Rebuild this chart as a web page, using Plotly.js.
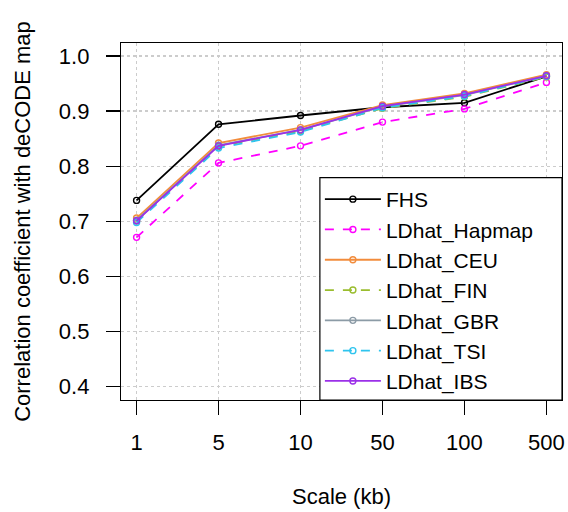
<!DOCTYPE html>
<html><head><meta charset="utf-8">
<script src="https://cdn.plot.ly/plotly-3.0.1.min.js"></script>
<style>body{margin:0;background:#fff}#chart{width:568px;height:512px}</style>
</head><body><div id="chart"></div>
<script>
const scales = ["1","5","10","50","100","500"];
const FHS          = [0.738, 0.876, 0.892, 0.907, 0.915, 0.963];
const LDhat_Hapmap = [0.671, 0.806, 0.837, 0.880, 0.904, 0.952];
const LDhat_CEU    = [0.706, 0.842, 0.870, 0.911, 0.932, 0.966];
const LDhat_FIN    = [0.701, 0.836, 0.864, 0.905, 0.926, 0.962];
const LDhat_GBR    = [0.702, 0.838, 0.866, 0.908, 0.929, 0.964];
const LDhat_TSI    = [0.698, 0.833, 0.862, 0.906, 0.927, 0.963];
const LDhat_IBS    = [0.701, 0.837, 0.866, 0.909, 0.930, 0.964];
const yTicks = [0.4,0.5,0.6,0.7,0.8,0.9,1.0];
const yTickText = ["0.4","0.5","0.6","0.7","0.8","0.9","1.0"];

const series = [
  {name:"FHS", y:FHS, color:"#000000", dash:"solid"},
  {name:"LDhat_Hapmap", y:LDhat_Hapmap, color:"#FF00FF", dash:"dash"},
  {name:"LDhat_CEU", y:LDhat_CEU, color:"#F28C3C", dash:"solid"},
  {name:"LDhat_FIN", y:LDhat_FIN, color:"#9ABD2E", dash:"dash"},
  {name:"LDhat_GBR", y:LDhat_GBR, color:"#8C9BA6", dash:"solid"},
  {name:"LDhat_TSI", y:LDhat_TSI, color:"#2EC4EE", dash:"dash"},
  {name:"LDhat_IBS", y:LDhat_IBS, color:"#9B30E8", dash:"solid"}
];
const traces = series.map(s => ({
  x: scales, y: s.y, name: s.name, type: "scatter", mode: "lines+markers",
  line: {color: s.color, width: 1.8, dash: s.dash},
  marker: {symbol: "circle-open", size: 6, color: s.color, line: {width: 1.4, color: s.color}}
}));

const fam = "Liberation Sans, Arial, Helvetica, sans-serif";
const f = sz => ({family: fam, size: sz, color: "#000"});
const layout = {
  width: 568, height: 512,
  margin: {l: 121, r: 6, t: 43, b: 112},
  paper_bgcolor: "#fff", plot_bgcolor: "#fff",
  font: f(22),
  showlegend: true,
  shapes: [{
    type: "rect", xref: "paper", yref: "paper", layer: "above",
    x0: 0.451, x1: 1, y0: 0, y1: 0.623,
    line: {color: "#000", width: 1.2}, fillcolor: "#fff"
  }],
  legend: {
    x: 0.451, xanchor: "left", y: 0.619, yanchor: "top",
    borderwidth: 0, bgcolor: "rgba(0,0,0,0)",
    font: f(21), tracegroupgap: 0, itemwidth: 56
  },
  xaxis: {
    type: "category", range: [-0.19, 5.19],
    showline: true, mirror: true, linecolor: "#000", linewidth: 1.2,
    ticks: "outside", ticklen: 14, tickcolor: "#000", tickwidth: 1.2,
    ticklabelstandoff: 8,
    showgrid: true, gridcolor: "#cccccc", griddash: "dot", gridwidth: 1.2,
    tickfont: f(22),
    title: {text: "Scale (kb)", font: f(22), standoff: 35},
    zeroline: false
  },
  yaxis: {
    range: [0.376, 1.0235],
    tickvals: yTicks, ticktext: yTickText,
    showline: true, mirror: true, linecolor: "#000", linewidth: 1.2,
    ticks: "outside", ticklen: 14, tickcolor: "#000", tickwidth: 1.2,
    ticklabelstandoff: 12,
    showgrid: true, gridcolor: "#cccccc", griddash: "dot", gridwidth: 1.2,
    tickfont: f(22),
    title: {text: "Correlation coefficient with deCODE map", font: f(22), standoff: 22},
    zeroline: false
  }
};
Plotly.newPlot("chart", traces, layout, {displayModeBar: false, staticPlot: true});
</script></body></html>
